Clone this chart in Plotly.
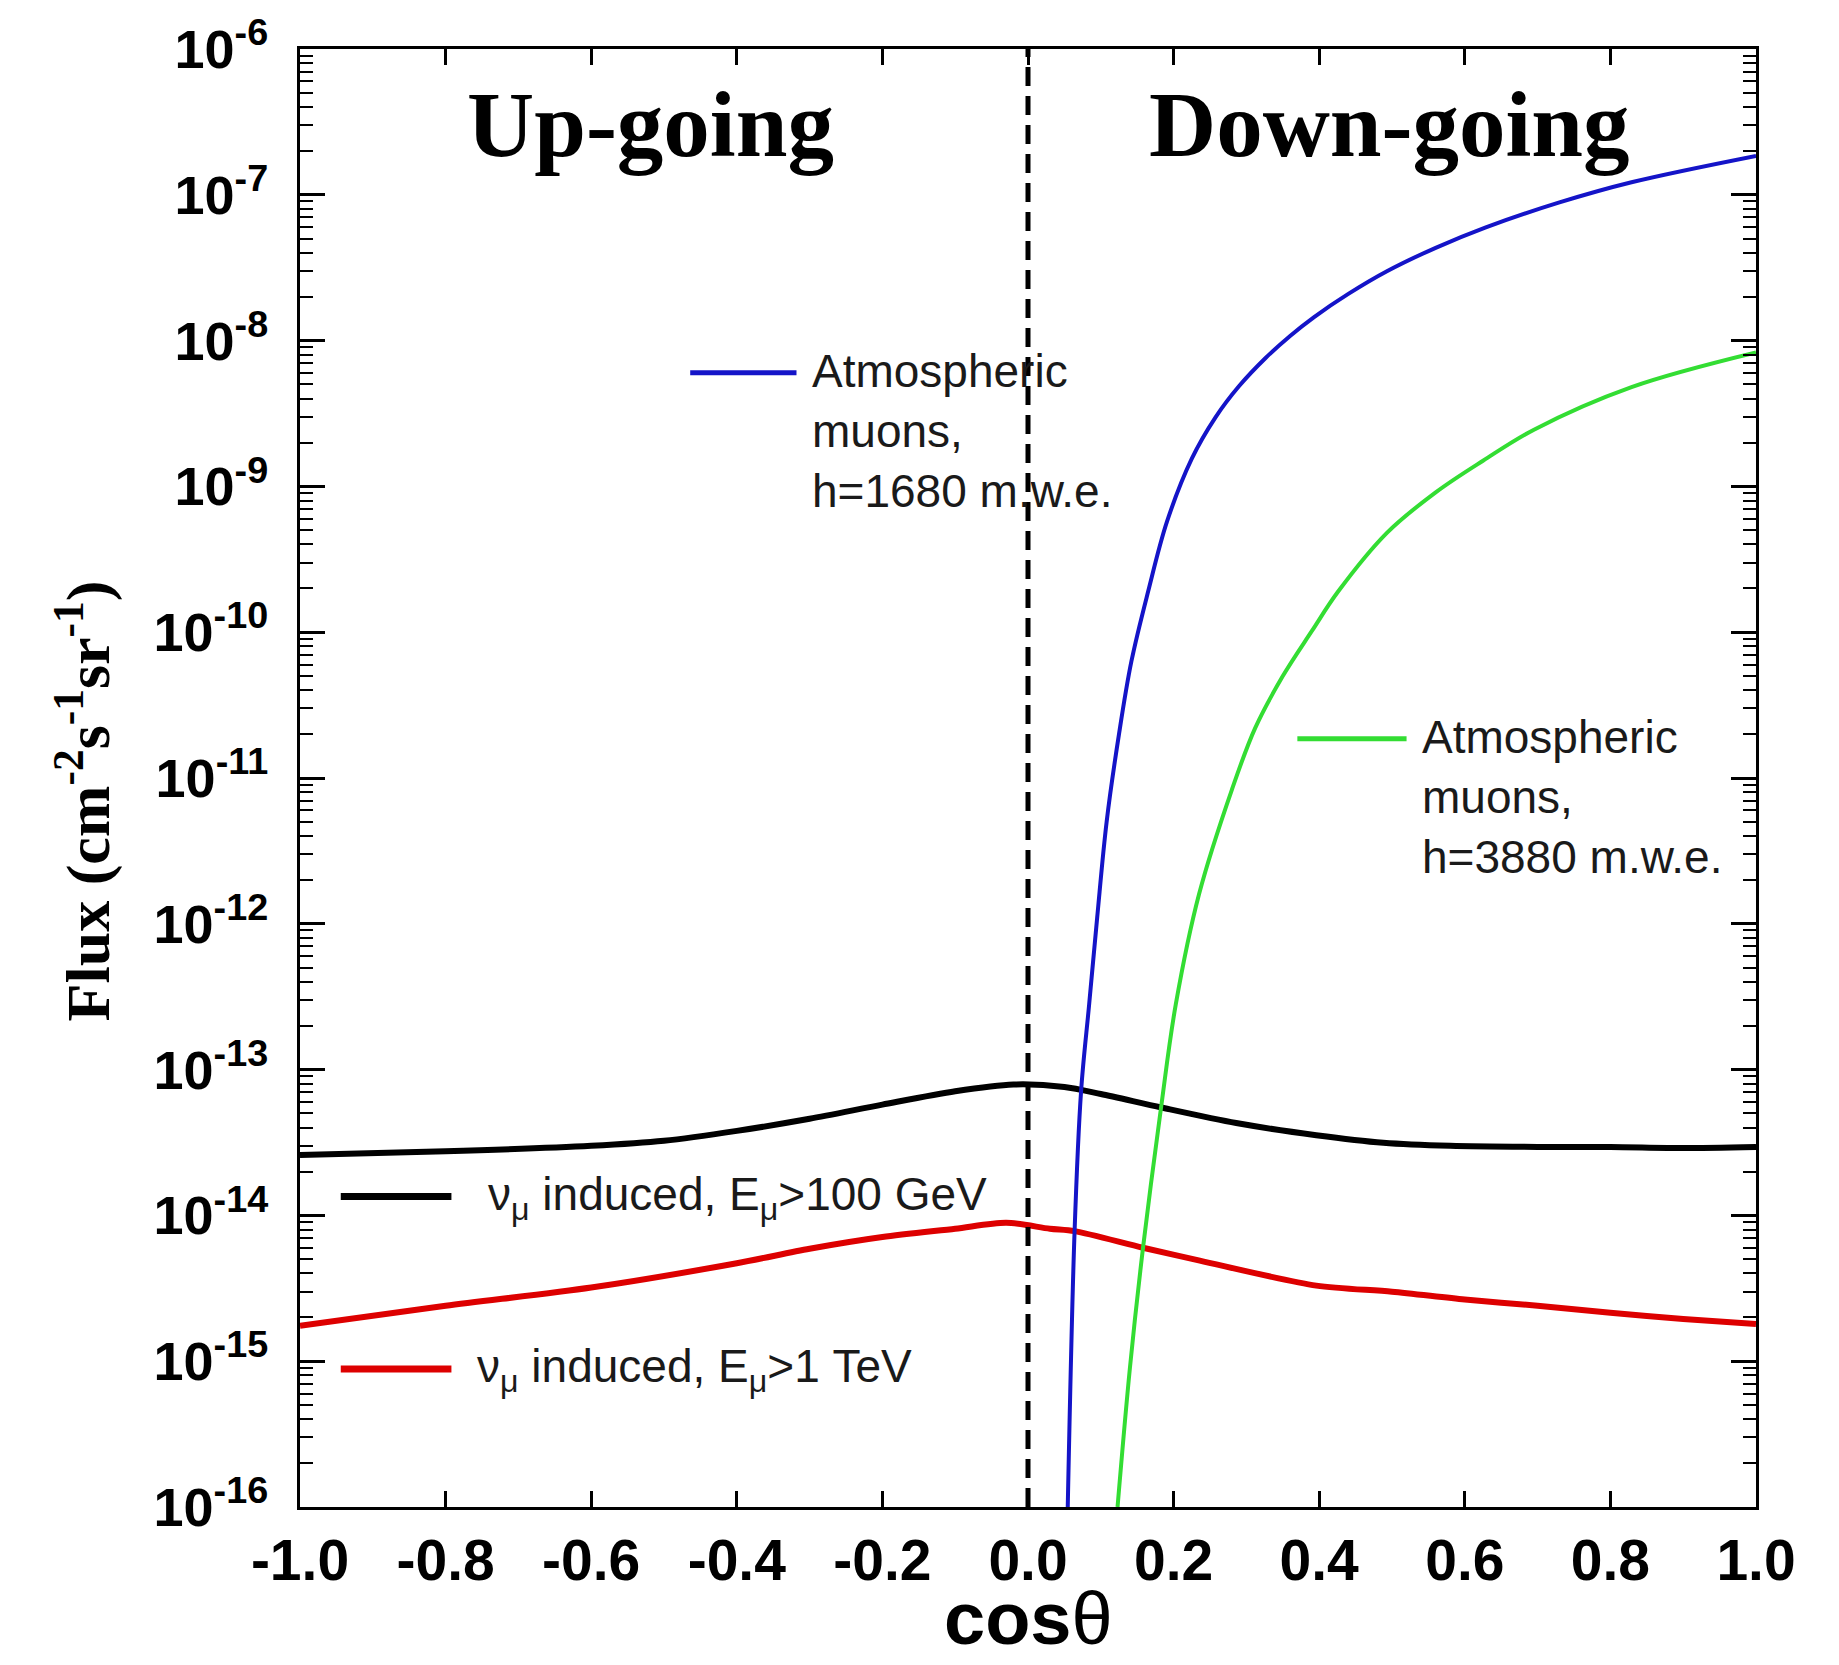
import plotly.graph_objects as go

# ---------------- data ----------------
cos_black = [-1.0, -0.8, -0.6, -0.5, -0.4, -0.3, -0.2, -0.1, -0.02, 0.05, 0.1, 0.183,
             0.286, 0.396, 0.488, 0.58, 0.7, 0.8, 0.9, 1.0]
flux_black = [2.6e-14, 2.75e-14, 3.0e-14, 3.25e-14, 3.8e-14, 4.6e-14, 5.75e-14, 7.1e-14,
              7.9e-14, 7.6e-14, 6.8e-14, 5.5e-14, 4.3e-14, 3.55e-14, 3.15e-14, 3.0e-14,
              2.95e-14, 2.95e-14, 2.9e-14, 2.95e-14]

cos_red = [-1.0, -0.8, -0.6, -0.4, -0.3, -0.2, -0.1, -0.03, 0.03, 0.064, 0.158, 0.236,
           0.396, 0.5, 0.6, 0.7, 0.8, 0.9, 1.0]
flux_red = [1.75e-15, 2.4e-15, 3.2e-15, 4.7e-15, 5.9e-15, 7.1e-15, 8.1e-15, 8.9e-15,
            8.1e-15, 7.8e-15, 6.0e-15, 4.9e-15, 3.3e-15, 3.0e-15, 2.65e-15, 2.4e-15,
            2.15e-15, 1.95e-15, 1.8e-15]

cos_blue = [0.0546, 0.064, 0.073, 0.084, 0.095, 0.108, 0.125, 0.142, 0.165, 0.191, 0.225,
            0.258, 0.29, 0.326, 0.36, 0.393, 0.44, 0.493, 0.56, 0.628, 0.73, 0.829, 1.0]
flux_blue = [1.0e-16, 7.8e-15, 7.2e-14, 2.8e-13, 1.1e-12, 5.0e-12, 2.0e-11, 6.3e-11,
             1.9e-10, 5.75e-10, 1.55e-9, 3.0e-9, 4.88e-9, 7.57e-9, 1.076e-8, 1.45e-8,
             2.09e-8, 2.99e-8, 4.33e-8, 5.96e-8, 8.87e-8, 1.22e-7, 1.85e-7]

cos_green = [0.123, 0.14, 0.158, 0.183, 0.203, 0.235, 0.28, 0.312, 0.35, 0.39, 0.426,
             0.493, 0.56, 0.625, 0.695, 0.829, 1.0]
flux_green = [1.0e-16, 9.0e-16, 6.0e-15, 5.6e-14, 2.8e-13, 1.6e-12, 8.3e-12, 2.2e-11,
              5.0e-11, 1.02e-10, 1.9e-10, 4.8e-10, 9.1e-10, 1.5e-9, 2.45e-9, 4.8e-9, 8.3e-9]

x_tickvals = [-1.0, -0.8, -0.6, -0.4, -0.2, 0.0, 0.2, 0.4, 0.6, 0.8, 1.0]
x_ticktext = ["-1.0", "-0.8", "-0.6", "-0.4", "-0.2", "0.0", "0.2", "0.4", "0.6", "0.8", "1.0"]
y_exponents = [-16, -15, -14, -13, -12, -11, -10, -9, -8, -7, -6]
y_tickvals = [10.0 ** e for e in y_exponents]
y_ticktext = ["10<sup>%d</sup>" % e for e in y_exponents]

label_blue = "Atmospheric<br>muons,<br>h=1680 m.w.e."
label_green = "Atmospheric<br>muons,<br>h=3880 m.w.e."
label_black = "ν<sub>μ</sub> induced, E<sub>μ</sub>&gt;100 GeV"
label_red = "ν<sub>μ</sub> induced, E<sub>μ</sub>&gt;1 TeV"

C_BLUE = "#1414c8"
C_GREEN = "#33dd33"
C_RED = "#dd0000"
C_BLACK = "#000000"

SANS = "Liberation Sans, Arial, sans-serif"
SERIF = "Liberation Serif, Times New Roman, serif"

fig = go.Figure()
fig.add_trace(go.Scatter(x=cos_black, y=flux_black, mode="lines", name="E>100 GeV",
                         line=dict(color=C_BLACK, width=6, shape="spline", smoothing=0.8)))
fig.add_trace(go.Scatter(x=cos_red, y=flux_red, mode="lines", name="E>1 TeV",
                         line=dict(color=C_RED, width=6, shape="spline", smoothing=0.8)))
fig.add_trace(go.Scatter(x=cos_blue, y=flux_blue, mode="lines", name="h=1680",
                         line=dict(color=C_BLUE, width=4, shape="spline", smoothing=1.0)))
fig.add_trace(go.Scatter(x=cos_green, y=flux_green, mode="lines", name="h=3880",
                         line=dict(color=C_GREEN, width=4, shape="spline", smoothing=1.0)))

axis_common = dict(showline=True, linewidth=3, linecolor="black", mirror="allticks",
                   ticks="inside", tickwidth=3, tickcolor="black", showgrid=False,
                   zeroline=False)

fig.update_xaxes(range=[-1, 1], tickvals=x_tickvals, ticktext=x_ticktext, ticklen=16,
                 ticklabelstandoff=2,
                 tickfont=dict(family=SANS, size=57, color="black", weight="bold"),
                 **axis_common)
fig.update_yaxes(type="log", range=[-16, -6], tickvals=y_tickvals, ticktext=y_ticktext,
                 ticklen=25, ticklabelstandoff=18,
                 tickfont=dict(family=SANS, size=54, color="black", weight="bold"),
                 minor=dict(ticks="inside", ticklen=13, tickwidth=2, tickcolor="black",
                            dtick="D1", showgrid=False),
                 **axis_common)

shapes = [
    dict(type="line", xref="x", yref="paper", x0=0, x1=0, y0=0, y1=1,
         line=dict(color="black", width=5, dash="19px,10px")),
    dict(type="line", xref="paper", yref="paper", x0=0.268, x1=0.341, y0=0.778, y1=0.778,
         line=dict(color=C_BLUE, width=5)),
    dict(type="line", xref="paper", yref="paper", x0=0.685, x1=0.760, y0=0.527, y1=0.527,
         line=dict(color=C_GREEN, width=5)),
    dict(type="line", xref="paper", yref="paper", x0=0.028, x1=0.104, y0=0.213, y1=0.213,
         line=dict(color=C_BLACK, width=7)),
    dict(type="line", xref="paper", yref="paper", x0=0.028, x1=0.104, y0=0.0947, y1=0.0947,
         line=dict(color=C_RED, width=7)),
]

txt_font = dict(family=SANS, size=46, color="#1a1a1a")
annotations = [
    dict(text="Up-going", x=0.241, y=0.948, xref="paper", yref="paper", showarrow=False,
         xanchor="center", yanchor="middle",
         font=dict(family=SERIF, size=93, color="black", weight="bold")),
    dict(text="Down-going", x=0.748, y=0.948, xref="paper", yref="paper", showarrow=False,
         xanchor="center", yanchor="middle",
         font=dict(family=SERIF, size=93, color="black", weight="bold")),
    dict(text=label_blue, x=0.350, y=0.738, xref="paper", yref="paper", showarrow=False,
         xanchor="left", yanchor="middle", align="left", font=txt_font),
    dict(text=label_green, x=0.769, y=0.487, xref="paper", yref="paper", showarrow=False,
         xanchor="left", yanchor="middle", align="left", font=txt_font),
    dict(text=label_black, x=0.128, y=0.212, xref="paper", yref="paper", showarrow=False,
         xanchor="left", yanchor="middle", align="left", font=txt_font),
    dict(text=label_red, x=0.120, y=0.094, xref="paper", yref="paper", showarrow=False,
         xanchor="left", yanchor="middle", align="left", font=txt_font),
    # axis titles
    dict(text="cos<span style='font-weight:normal'>θ</span>", x=0.5, y=-0.1066,
         xref="paper", yref="paper", showarrow=False, xanchor="center", yanchor="bottom",
         font=dict(family=SANS, size=74, color="black", weight="bold")),
    dict(text="Flux (cm<sup>-2</sup>s<sup>-1</sup>sr<sup>-1</sup>)", x=-0.1490, y=0.484,
         xref="paper", yref="paper", showarrow=False, xanchor="center", yanchor="middle",
         textangle=-90,
         font=dict(family=SERIF, size=62, color="black", weight="bold")),
]

fig.update_layout(width=1839, height=1665,
                  margin=dict(l=300, r=83, t=49, b=158),
                  plot_bgcolor="white", paper_bgcolor="white",
                  showlegend=False, shapes=shapes, annotations=annotations)

fig.write_html("out.html", config={"displayModeBar": False},
               post_script="document.body.style.margin='0';document.body.style.overflow='hidden';")
